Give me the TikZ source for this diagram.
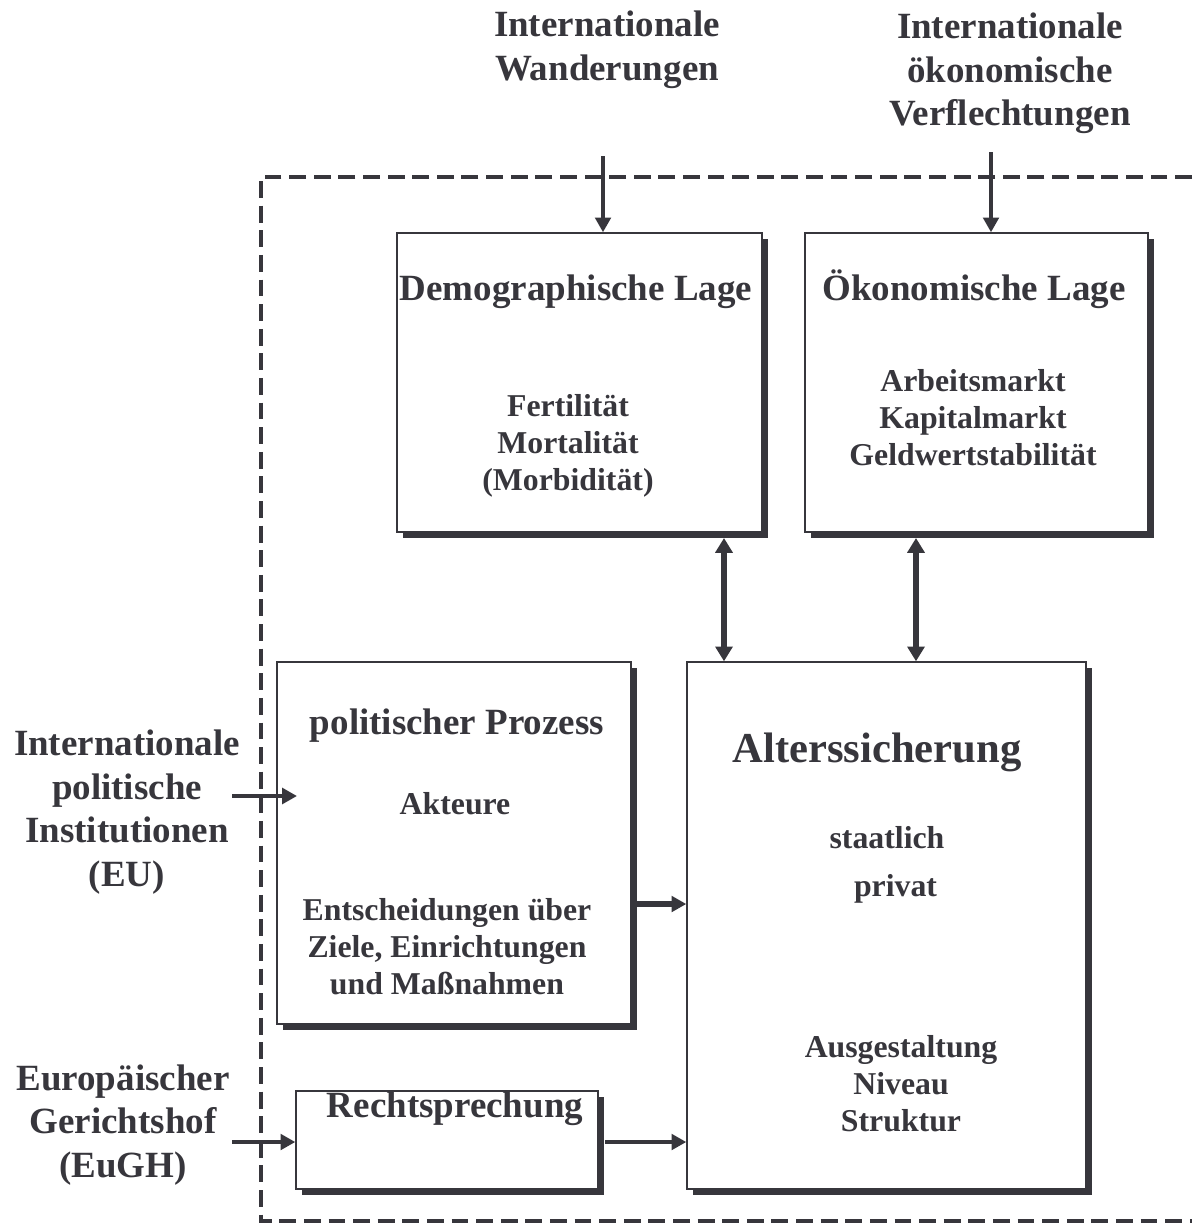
\documentclass[tikz,border=0pt]{standalone}
\usepackage{fontspec}
\setmainfont{Liberation Serif}
\usetikzlibrary{arrows.meta,shadows,fit}
\definecolor{ink}{RGB}{55,54,60}

\begin{document}
\begin{tikzpicture}[x=0.025cm, y=-0.025cm,
    box/.style={draw=ink, line width=1pt, fill=white, inner sep=0pt,
        drop shadow={shadow xshift=4.5pt, shadow yshift=-4pt, fill=ink, opacity=1}},
    head/.style={font=\fontsize{26.3}{31}\selectfont\bfseries, text=ink, align=center, inner sep=0pt},
    sub/.style={font=\fontsize{22.6}{26.3}\selectfont\bfseries, text=ink, align=center, inner sep=0pt},
    title/.style={head, text height=0.7em, text depth=0.25em},
    item/.style={sub, text height=0.7em, text depth=0.25em},
    big/.style={title, font=\fontsize{30.3}{36}\selectfont\bfseries},
    arr/.style={ink, line width=3.5pt, -{Triangle[length=10.5pt,width=11pt]}},
    darr/.style={ink, line width=4.5pt, {Triangle[length=10.5pt,width=12pt]}-{Triangle[length=10.5pt,width=12pt]}},
    border/.style={ink, line width=2.3pt, dash pattern=on 12pt off 5.5pt}]

\useasboundingbox (0,0) rectangle (1192,1223);

% the dashed frame of the system
\draw[border] (1192,177) -- (261,177) -- (261,1221) -- (1192,1221);

% the boxes
\node[box, fit={(397,233) (762,532)}] (demo) {};
\node[box, fit={(805,233) (1148,532)}] (oeko) {};
\node[box, fit={(277,662) (631,1024)}] (polit) {};
\node[box, fit={(296,1091) (598,1189)}] (recht) {};
\node[box, fit={(687,662) (1086,1189)}] (alter) {};

% what is written in the boxes
\node[title] (demotitle) at (576,297) {Demographische Lage};
\node[sub] (demotext) at (568,446) {Fertilität\\Mortalität\\(Morbidität)};
\node[title] (oekotitle) at (974,297) {Ökonomische Lage};
\node[sub] (oekotext) at (973,418) {Arbeitsmarkt\\Kapitalmarkt\\Geldwertstabilität};
\node[title] (polittitle) at (457,731) {politischer Prozess};
\node[item] (akteure) at (455,811) {Akteure};
\node[sub] (entsch) at (447,946.5) {Entscheidungen über\\Ziele, Einrichtungen\\und Maßnahmen};
\node[title] (rechttitle) at (455,1114) {Rechtsprechung};
\node[big] (altertitle) at (877,759.5) {Alterssicherung};
\node[item] (staat) at (887,845) {staatlich};
\node[item] (priv) at (895.5,893) {privat};
\node[sub] (ausg) at (901,1084) {Ausgestaltung\\Niveau\\Struktur};

% the outside influences
\node[head] (wand) at (607,50) {Internationale\\Wanderungen};
\node[head] (verfl) at (1010,73.5) {Internationale\\ökonomische\\Verflechtungen};
\node[head] (eu) at (127,812) {Internationale\\politische\\Institutionen\\(EU)};
\node[head] (eugh) at (123,1125) {Europäischer\\Gerichtshof\\(EuGH)};

% arrows from outside
\coordinate (wandA) at (603,156);
\draw[arr] (wandA) -- (wandA |- demo.north);
\coordinate (verflA) at (991,152);
\draw[arr] (verflA) -- (verflA |- oeko.north);
\coordinate (euA) at (232,796);
\coordinate (euB) at (297,796);
\draw[arr] (euA) -- (euB);
\coordinate (eughA) at (232,1142);
\draw[arr] (eughA) -- (eughA -| recht.west);

% arrows inside
\coordinate (demoB) at (724,538);
\draw[darr] (demoB) -- (demoB |- alter.north);
\coordinate (oekoB) at (916,538);
\draw[darr] (oekoB) -- (oekoB |- alter.north);
\coordinate (politA) at (637,904);
\draw[arr, line width=4.5pt] (politA) -- (politA -| alter.west);
\coordinate (rechtA) at (605,1142);
\draw[arr] (rechtA) -- (rechtA -| alter.west);

\end{tikzpicture}
\end{document}
